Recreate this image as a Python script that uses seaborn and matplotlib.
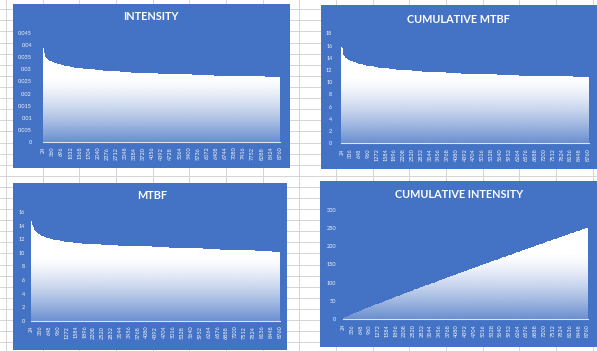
import numpy as np
import matplotlib
matplotlib.use("Agg")
import matplotlib.pyplot as plt
import seaborn as sns
from matplotlib.patches import Rectangle
from matplotlib.colors import to_rgb


# ==========================
# data

hours = list(range(24, 8761, 24))   # 365 categories, 24 .. 8760

intensity = [
    0.0385, 0.0366, 0.0356, 0.0350, 0.0346, 0.0343, 0.0341, 0.0339, 0.0337, 0.0335,
    0.0333, 0.0332, 0.0331, 0.0330, 0.0329, 0.0328, 0.0327, 0.0326, 0.0325, 0.0324,
    0.0324, 0.0321, 0.0321, 0.0321, 0.0319, 0.0319, 0.0319,
    0.0316, 0.0316, 0.0316, 0.0316,
    0.0313, 0.0313, 0.0313, 0.0313, 0.0313,
    0.0311, 0.0311, 0.0311, 0.0311, 0.0311,
    0.0308, 0.0308, 0.0308, 0.0308, 0.0308, 0.0308,
    0.0305, 0.0305, 0.0305, 0.0305, 0.0305, 0.0305,
    0.0303, 0.0303, 0.0303, 0.0303, 0.0303, 0.0303, 0.0303, 0.0303,
    0.0300, 0.0300, 0.0300, 0.0300, 0.0300, 0.0300, 0.0300, 0.0300, 0.0300,
    0.0298, 0.0298, 0.0298, 0.0298, 0.0298, 0.0298, 0.0298, 0.0298, 0.0298, 0.0298,
    0.0295, 0.0295, 0.0295, 0.0295, 0.0295, 0.0295, 0.0295, 0.0295, 0.0295, 0.0295, 0.0295,
    0.0292, 0.0292, 0.0292, 0.0292, 0.0292, 0.0292, 0.0292, 0.0292, 0.0292, 0.0292, 0.0292, 0.0292, 0.0292,
    0.0290, 0.0290, 0.0290, 0.0290, 0.0290, 0.0290, 0.0290,
    0.0290, 0.0290, 0.0290, 0.0290, 0.0290, 0.0290, 0.0290,
    0.0287, 0.0287, 0.0287, 0.0287, 0.0287, 0.0287, 0.0287, 0.0287, 0.0287,
    0.0287, 0.0287, 0.0287, 0.0287, 0.0287, 0.0287, 0.0287, 0.0287,
    0.0284, 0.0284, 0.0284, 0.0284, 0.0284, 0.0284, 0.0284, 0.0284, 0.0284, 0.0284,
    0.0284, 0.0284, 0.0284, 0.0284, 0.0284, 0.0284, 0.0284, 0.0284, 0.0284,
    0.0282, 0.0282, 0.0282, 0.0282, 0.0282, 0.0282, 0.0282, 0.0282, 0.0282, 0.0282, 0.0282,
    0.0282, 0.0282, 0.0282, 0.0282, 0.0282, 0.0282, 0.0282, 0.0282, 0.0282, 0.0282, 0.0282,
    0.0279, 0.0279, 0.0279, 0.0279, 0.0279, 0.0279, 0.0279, 0.0279, 0.0279,
    0.0279, 0.0279, 0.0279, 0.0279, 0.0279, 0.0279, 0.0279, 0.0279,
    0.0279, 0.0279, 0.0279, 0.0279, 0.0279, 0.0279, 0.0279, 0.0279,
    0.0277, 0.0277, 0.0277, 0.0277, 0.0277, 0.0277, 0.0277, 0.0277, 0.0277, 0.0277,
    0.0277, 0.0277, 0.0277, 0.0277, 0.0277, 0.0277, 0.0277, 0.0277, 0.0277,
    0.0277, 0.0277, 0.0277, 0.0277, 0.0277, 0.0277, 0.0277, 0.0277, 0.0277,
    0.0274, 0.0274, 0.0274, 0.0274, 0.0274, 0.0274, 0.0274, 0.0274, 0.0274, 0.0274, 0.0274,
    0.0274, 0.0274, 0.0274, 0.0274, 0.0274, 0.0274, 0.0274, 0.0274, 0.0274, 0.0274, 0.0274,
    0.0274, 0.0274, 0.0274, 0.0274, 0.0274, 0.0274, 0.0274, 0.0274, 0.0274, 0.0274, 0.0274,
    0.0271, 0.0271, 0.0271, 0.0271, 0.0271, 0.0271, 0.0271, 0.0271, 0.0271, 0.0271,
    0.0271, 0.0271, 0.0271, 0.0271, 0.0271, 0.0271, 0.0271, 0.0271, 0.0271,
    0.0271, 0.0271, 0.0271, 0.0271, 0.0271, 0.0271, 0.0271, 0.0271, 0.0271,
    0.0271, 0.0271, 0.0271, 0.0271, 0.0271, 0.0271, 0.0271, 0.0271, 0.0271,
    0.0269, 0.0269, 0.0269, 0.0269, 0.0269, 0.0269, 0.0269, 0.0269, 0.0269, 0.0269, 0.0269,
    0.0269, 0.0269, 0.0269, 0.0269, 0.0269, 0.0269, 0.0269, 0.0269, 0.0269, 0.0269, 0.0269,
    0.0269, 0.0269, 0.0269, 0.0269, 0.0269, 0.0269, 0.0269, 0.0269, 0.0269, 0.0269,
    0.0269, 0.0269, 0.0269, 0.0269, 0.0269, 0.0269, 0.0269, 0.0269, 0.0269, 0.0269,
    0.0266, 0.0266, 0.0266, 0.0266, 0.0266, 0.0266, 0.0266, 0.0266, 0.0266, 0.0266, 0.0266, 0.0266,
    0.0266, 0.0266, 0.0266, 0.0266, 0.0266, 0.0266, 0.0266, 0.0266, 0.0266, 0.0266, 0.0266, 0.0266,
]

cumulative_mtbf = [
    15.63, 14.86, 14.45, 14.21, 14.05, 13.92, 13.85, 13.76, 13.68, 13.60,
    13.52, 13.48, 13.44, 13.40, 13.36, 13.32, 13.27, 13.24, 13.20, 13.15,
    13.15, 13.05, 13.05, 13.05, 12.94, 12.94, 12.94,
    12.83, 12.83, 12.83, 12.83,
    12.72, 12.72, 12.72, 12.72, 12.72,
    12.62, 12.62, 12.62, 12.62, 12.62,
    12.51, 12.51, 12.51, 12.51, 12.51, 12.51,
    12.40, 12.40, 12.40, 12.40, 12.40, 12.40,
    12.30, 12.30, 12.30, 12.30, 12.30, 12.30, 12.30, 12.30,
    12.19, 12.19, 12.19, 12.19, 12.19, 12.19, 12.19, 12.19, 12.19,
    12.08, 12.08, 12.08, 12.08, 12.08, 12.08, 12.08, 12.08, 12.08, 12.08,
    11.98, 11.98, 11.98, 11.98, 11.98, 11.98, 11.98, 11.98, 11.98, 11.98, 11.98,
    11.87, 11.87, 11.87, 11.87, 11.87, 11.87, 11.87, 11.87, 11.87, 11.87, 11.87, 11.87, 11.87,
    11.76, 11.76, 11.76, 11.76, 11.76, 11.76, 11.76,
    11.76, 11.76, 11.76, 11.76, 11.76, 11.76, 11.76,
    11.66, 11.66, 11.66, 11.66, 11.66, 11.66, 11.66, 11.66, 11.66,
    11.66, 11.66, 11.66, 11.66, 11.66, 11.66, 11.66, 11.66,
    11.55, 11.55, 11.55, 11.55, 11.55, 11.55, 11.55, 11.55, 11.55, 11.55,
    11.55, 11.55, 11.55, 11.55, 11.55, 11.55, 11.55, 11.55, 11.55,
    11.44, 11.44, 11.44, 11.44, 11.44, 11.44, 11.44, 11.44, 11.44, 11.44, 11.44,
    11.44, 11.44, 11.44, 11.44, 11.44, 11.44, 11.44, 11.44, 11.44, 11.44, 11.44,
    11.33, 11.33, 11.33, 11.33, 11.33, 11.33, 11.33, 11.33, 11.33,
    11.33, 11.33, 11.33, 11.33, 11.33, 11.33, 11.33, 11.33,
    11.33, 11.33, 11.33, 11.33, 11.33, 11.33, 11.33, 11.33,
    11.23, 11.23, 11.23, 11.23, 11.23, 11.23, 11.23, 11.23, 11.23, 11.23,
    11.23, 11.23, 11.23, 11.23, 11.23, 11.23, 11.23, 11.23, 11.23,
    11.23, 11.23, 11.23, 11.23, 11.23, 11.23, 11.23, 11.23, 11.23,
    11.12, 11.12, 11.12, 11.12, 11.12, 11.12, 11.12, 11.12, 11.12, 11.12, 11.12,
    11.12, 11.12, 11.12, 11.12, 11.12, 11.12, 11.12, 11.12, 11.12, 11.12, 11.12,
    11.12, 11.12, 11.12, 11.12, 11.12, 11.12, 11.12, 11.12, 11.12, 11.12, 11.12,
    11.01, 11.01, 11.01, 11.01, 11.01, 11.01, 11.01, 11.01, 11.01, 11.01,
    11.01, 11.01, 11.01, 11.01, 11.01, 11.01, 11.01, 11.01, 11.01,
    11.01, 11.01, 11.01, 11.01, 11.01, 11.01, 11.01, 11.01, 11.01,
    11.01, 11.01, 11.01, 11.01, 11.01, 11.01, 11.01, 11.01, 11.01,
    10.91, 10.91, 10.91, 10.91, 10.91, 10.91, 10.91, 10.91, 10.91, 10.91, 10.91,
    10.91, 10.91, 10.91, 10.91, 10.91, 10.91, 10.91, 10.91, 10.91, 10.91, 10.91,
    10.91, 10.91, 10.91, 10.91, 10.91, 10.91, 10.91, 10.91, 10.91, 10.91,
    10.91, 10.91, 10.91, 10.91, 10.91, 10.91, 10.91, 10.91, 10.91, 10.91,
    10.80, 10.80, 10.80, 10.80, 10.80, 10.80, 10.80, 10.80, 10.80, 10.80, 10.80, 10.80,
    10.80, 10.80, 10.80, 10.80, 10.80, 10.80, 10.80, 10.80, 10.80, 10.80, 10.80, 10.80,
]

mtbf = [
    14.6, 14.0, 13.7, 13.5, 13.3, 13.2, 13.1, 13.0, 12.9, 12.8,
    12.7, 12.7, 12.6, 12.6, 12.5, 12.5, 12.4, 12.4, 12.3, 12.3,
    12.3, 12.2, 12.2, 12.2, 12.1, 12.1, 12.1,
    12.0, 12.0, 12.0, 12.0,
    11.9, 11.9, 11.9, 11.9, 11.9,
    11.8, 11.8, 11.8, 11.8, 11.8,
    11.7, 11.7, 11.7, 11.7, 11.7, 11.7,
    11.6, 11.6, 11.6, 11.6, 11.6, 11.6,
    11.5, 11.5, 11.5, 11.5, 11.5, 11.5, 11.5, 11.5,
    11.4, 11.4, 11.4, 11.4, 11.4, 11.4, 11.4, 11.4, 11.4, 11.4, 11.4, 11.4,
    11.3, 11.3, 11.3, 11.3, 11.3, 11.3, 11.3, 11.3, 11.3, 11.3, 11.3, 11.3, 11.3,
    11.2, 11.2, 11.2, 11.2, 11.2, 11.2, 11.2, 11.2,
    11.2, 11.2, 11.2, 11.2, 11.2, 11.2, 11.2,
    11.1, 11.1, 11.1, 11.1, 11.1, 11.1, 11.1, 11.1, 11.1, 11.1, 11.1, 11.1, 11.1,
    11.1, 11.1, 11.1, 11.1, 11.1, 11.1, 11.1, 11.1, 11.1, 11.1, 11.1, 11.1,
    11.0, 11.0, 11.0, 11.0, 11.0, 11.0, 11.0, 11.0, 11.0, 11.0, 11.0, 11.0, 11.0,
    11.0, 11.0, 11.0, 11.0, 11.0, 11.0, 11.0, 11.0, 11.0, 11.0, 11.0, 11.0,
    10.9, 10.9, 10.9, 10.9, 10.9, 10.9, 10.9, 10.9, 10.9, 10.9, 10.9, 10.9, 10.9,
    10.9, 10.9, 10.9, 10.9, 10.9, 10.9, 10.9, 10.9, 10.9, 10.9, 10.9, 10.9,
    10.8, 10.8, 10.8, 10.8, 10.8, 10.8, 10.8, 10.8, 10.8, 10.8, 10.8, 10.8, 10.8,
    10.8, 10.8, 10.8, 10.8, 10.8, 10.8, 10.8, 10.8, 10.8, 10.8, 10.8, 10.8,
    10.7, 10.7, 10.7, 10.7, 10.7, 10.7, 10.7, 10.7, 10.7, 10.7, 10.7, 10.7, 10.7,
    10.7, 10.7, 10.7, 10.7, 10.7, 10.7, 10.7, 10.7, 10.7, 10.7, 10.7, 10.7,
    10.6, 10.6, 10.6, 10.6, 10.6, 10.6, 10.6, 10.6, 10.6, 10.6, 10.6, 10.6, 10.6,
    10.6, 10.6, 10.6, 10.6, 10.6, 10.6, 10.6, 10.6, 10.6, 10.6, 10.6, 10.6,
    10.5, 10.5, 10.5, 10.5, 10.5, 10.5, 10.5, 10.5, 10.5, 10.5, 10.5, 10.5, 10.5,
    10.5, 10.5, 10.5, 10.5, 10.5, 10.5, 10.5, 10.5, 10.5, 10.5, 10.5, 10.5,
    10.4, 10.4, 10.4, 10.4, 10.4, 10.4, 10.4, 10.4, 10.4, 10.4, 10.4, 10.4, 10.4,
    10.4, 10.4, 10.4, 10.4, 10.4, 10.4, 10.4, 10.4, 10.4, 10.4, 10.4, 10.4, 10.4,
    10.3, 10.3, 10.3, 10.3, 10.3, 10.3, 10.3, 10.3, 10.3, 10.3, 10.3, 10.3, 10.3,
    10.3, 10.3, 10.3, 10.3, 10.3, 10.3, 10.3, 10.3, 10.3, 10.3, 10.3, 10.3,
    10.2, 10.2, 10.2, 10.2, 10.2, 10.2, 10.2, 10.2, 10.2, 10.2, 10.2, 10.2, 10.2,
    10.2, 10.2, 10.2, 10.2, 10.2, 10.2, 10.2, 10.2, 10.2, 10.2, 10.2, 10.2,
    10.1, 10.1, 10.1, 10.1, 10.1, 10.1, 10.1, 10.1, 10.1, 10.1, 10.1, 10.1, 10.1,
]

cumulative_intensity = [
    1, 2, 3, 4, 4, 5, 6, 7, 8, 8,
    9, 10, 11, 12, 12, 13, 14, 15, 16, 16,
    17, 18, 19, 19, 20, 21, 22, 22, 23, 24,
    25, 25, 26, 27, 28, 28, 29, 30, 31, 31,
    32, 33, 33, 34, 35, 36, 36, 37, 38, 39,
    39, 40, 41, 41, 42, 43, 44, 44, 45, 46,
    46, 47, 48, 49, 49, 50, 51, 51, 52, 53,
    54, 54, 55, 56, 56, 57, 58, 59, 59, 60,
    61, 61, 62, 63, 63, 64, 65, 66, 66, 67,
    68, 68, 69, 70, 70, 71, 72, 73, 73, 74,
    75, 75, 76, 77, 77, 78, 79, 80, 80, 81,
    82, 82, 83, 84, 84, 85, 86, 86, 87, 88,
    89, 89, 90, 91, 91, 92, 93, 93, 94, 95,
    95, 96, 97, 97, 98, 99, 99, 100, 101, 101,
    102, 103, 104, 104, 105, 106, 106, 107, 108, 108,
    109, 110, 110, 111, 112, 112, 113, 114, 114, 115,
    116, 116, 117, 118, 118, 119, 120, 120, 121, 122,
    122, 123, 124, 124, 125, 126, 126, 127, 128, 128,
    129, 130, 131, 131, 132, 133, 133, 134, 135, 135,
    136, 137, 137, 138, 139, 139, 140, 141, 141, 142,
    143, 143, 144, 145, 145, 146, 147, 147, 148, 149,
    149, 150, 151, 151, 152, 153, 153, 154, 155, 155,
    156, 157, 157, 158, 158, 159, 160, 160, 161, 162,
    162, 163, 164, 164, 165, 166, 166, 167, 168, 168,
    169, 170, 170, 171, 172, 172, 173, 174, 174, 175,
    176, 176, 177, 178, 178, 179, 180, 180, 181, 182,
    182, 183, 184, 184, 185, 186, 186, 187, 188, 188,
    189, 189, 190, 191, 191, 192, 193, 193, 194, 195,
    195, 196, 197, 197, 198, 199, 199, 200, 201, 201,
    202, 203, 203, 204, 205, 205, 206, 206, 207, 208,
    208, 209, 210, 210, 211, 212, 212, 213, 214, 214,
    215, 216, 216, 217, 218, 218, 219, 219, 220, 221,
    221, 222, 223, 223, 224, 225, 225, 226, 227, 227,
    228, 229, 229, 230, 231, 231, 232, 232, 233, 234,
    234, 235, 236, 236, 237, 238, 238, 239, 240, 240,
    241, 242, 242, 243, 244, 244, 245, 245, 246, 247,
    247, 248, 249, 249, 250,
]

intensity_ticks = [0, 0.005, 0.01, 0.015, 0.02, 0.025, 0.03, 0.035, 0.04, 0.045]
cum_mtbf_ticks = [0, 2, 4, 6, 8, 10, 12, 14, 16, 18]
mtbf_ticks = [0, 2, 4, 6, 8, 10, 12, 14, 16]
cum_intensity_ticks = [0, 50, 100, 150, 200, 250, 300]


# ===========
# plot setup

W, H = 597, 351
panel_blue = "#4472C4"
text_col = "#F4F6FB"

sns.set_theme(style="white")
plt.rcParams["font.family"] = ["Lato", "DejaVu Sans"]

fig = plt.figure(figsize=(W / 100, H / 100), dpi=100)

# spreadsheet backdrop: cell grid + the blue chart boxes on top of it
bg = fig.add_axes([0, 0, 1, 1], zorder=-10)
bg.set_xlim(0, W)
bg.set_ylim(H, 0)
bg.axis("off")
for gx in np.arange(6, W, 36.67):
    bg.axvline(gx, color="#d4d4d4", lw=0.7, zorder=1)
for gy in np.arange(9.3, H, 11.1):
    bg.axhline(gy, color="#d4d4d4", lw=0.7, zorder=1)

panel_boxes = [(13, 4, 277, 164), (321, 5, 276, 164), (13, 183, 274, 167), (320, 181, 277, 166)]
for (px, py, pw, ph) in panel_boxes:
    bg.add_patch(Rectangle((px, py), pw, ph, facecolor=panel_blue, edgecolor="none", zorder=5))


# one entry per chart: (values, title, plot-area px box, y ticks, tick label step, ytick pad, title centre)
charts = [
    (intensity, "INTENSITY", (43.0, 33.3, 280.3, 141.7), intensity_ticks, 14, 7.9, (150.8, 17.0)),
    (cumulative_mtbf, "CUMULATIVE MTBF", (341.4, 33.3, 588.6, 143.3), cum_mtbf_ticks, 13, 6.5, (458.3, 19.2)),
    (mtbf, "MTBF", (31.3, 212.3, 280.3, 320.7), mtbf_ticks, 13, 4.3, (151.7, 195.8)),
    (cumulative_intensity, "CUMULATIVE INTENSITY", (343.0, 210.0, 588.0, 319.0), cum_intensity_ticks, 13, 5.0, (458.8, 194.2)),
]

rgb = to_rgb(panel_blue)
fade = np.linspace(0, 1, 256)
alpha = np.clip(1 - fade / 0.6, 0, 1) ** 1.4 * 0.8
gradient = np.zeros((256, 1, 4))
gradient[..., :3] = rgb
gradient[:, 0, 3] = alpha

for values, title, (x0, y0, x1, y1), yticks, step, ypad, (tx, ty) in charts:
    ax = fig.add_axes([x0 / W, 1 - y1 / H, (x1 - x0) / W, (y1 - y0) / H])
    ax.set_facecolor(panel_blue)

    sns.barplot(x=hours, y=values, color="white", saturation=1, width=0.8,
                linewidth=0, errorbar=None, ax=ax)
    # hard-edged thin bars: some pixel columns fall in the gaps -> faint stripes
    for bar in ax.patches:
        bar.set_snap(False)
        bar.set_antialiased(False)

    ymax = yticks[-1]
    # white -> blue fade toward the bottom of the bars
    ax.imshow(gradient, extent=[-0.5, len(hours) - 0.5, 0, ymax], origin="lower",
              aspect="auto", zorder=3, interpolation="bilinear")

    ax.set_xlim(-0.5, len(hours) - 0.5)
    ax.set_ylim(0, ymax)

    tick_pos = list(range(0, len(hours), step))
    ax.set_xticks(tick_pos)
    ax.set_xticklabels([str(hours[k]) for k in tick_pos], rotation=90)
    ax.set_yticks(yticks)
    ax.set_yticklabels([f"{v:g}" for v in yticks])

    ax.tick_params(axis="x", length=0, pad=3.6, labelsize=4.0, labelcolor=text_col)
    ax.tick_params(axis="y", length=0, pad=ypad, labelsize=4.0, labelcolor=text_col)
    ax.set_xlabel("")
    ax.set_ylabel("")

    for side in ["top", "left", "right"]:
        ax.spines[side].set_visible(False)
    ax.spines["bottom"].set_color("#DCE4F2")
    ax.spines["bottom"].set_linewidth(0.8)
    ax.spines["bottom"].set_zorder(4)

    fig.text(tx / W, 1 - ty / H, title, ha="center", va="center",
             color="white", fontsize=7.8, fontweight="bold")

fig.savefig("out.png", dpi=100)
